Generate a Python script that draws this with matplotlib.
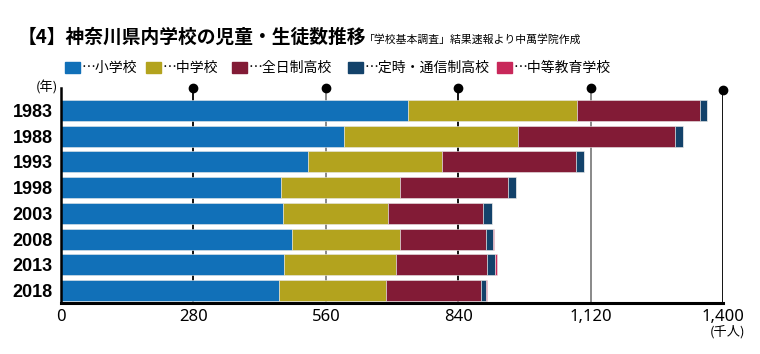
import matplotlib
matplotlib.use("Agg")
import matplotlib.pyplot as plt
import numpy as np

plt.rcParams['font.family'] = ['Noto Sans CJK JP', 'DejaVu Sans']

years = ["1983", "1988", "1993", "1998", "2003", "2008", "2013", "2018"]
elementary = [733, 599, 522, 465, 470, 488, 471, 461]
junior_high = [357, 366, 284, 252, 222, 229, 238, 226]
fulltime_high = [261, 332, 282, 227, 200, 181, 192, 200]
parttime_high = [14, 18, 17, 18, 19, 16, 17, 12]
secondary_ed = [0, 0, 0, 0, 1, 1.5, 3, 2]

series = [
    ("⋯小学校", elementary, "#1170b8"),
    ("⋯中学校", junior_high, "#b3a31e"),
    ("⋯全日制高校", fulltime_high, "#821b36"),
    ("⋯定時・通信制高校", parttime_high, "#13426a"),
    ("⋯中等教育学校", secondary_ed, "#c8285a"),
]
xticks = [0, 280, 560, 840, 1120, 1400]
xticklabels = ["0", "280", "560", "840", "1,120", "1,400"]

W, H = 760, 354
fig = plt.figure(figsize=(W / 100, H / 100), dpi=100)
ax = fig.add_axes([61 / W, 1 - 303 / H, (723.3 - 61) / W, (303 - 88) / H])

y = np.arange(len(years))
left = np.zeros(len(years))
for name, vals, col in series:
    v = np.array(vals, dtype=float)
    ax.barh(y, v, left=left, height=0.82, color=col, edgecolor="#e8e8e8",
            linewidth=0.4, zorder=3)
    left += v

ax.set_xlim(0, 1400)
ax.set_ylim(7 + 0.486, -0.875)

for xv in xticks[1:]:
    c = "black" if xv in (280, 840, 1400) else "#808080"
    ax.axvline(xv, color=c, lw=1.3, zorder=1)
    top = 1.0 if xv != 1400 else 0.99
    ax.plot([xv], [top], marker="o", ms=6, color="black", transform=ax.get_xaxis_transform(),
            clip_on=False, zorder=5)

ax.set_xticks(xticks)
ax.set_xticklabels(xticklabels, fontsize=12, family=['Noto Sans', 'DejaVu Sans'])
ax.set_yticks(y)
ax.set_yticklabels(years, fontsize=13, fontweight="bold", family=['Liberation Sans', 'DejaVu Sans'])
ax.tick_params(length=0, pad=6)
ax.tick_params(axis='x', pad=4)
for s in ["top", "right"]:
    ax.spines[s].set_visible(False)
ax.spines["left"].set_linewidth(1.8)
ax.spines["bottom"].set_linewidth(2.2)
ax.spines["left"].set_zorder(6)
ax.spines["bottom"].set_zorder(6)

# Title
fig.text(18 / W, 1 - 37 / H, "【4】神奈川県内学校の児童・生徒数推移", fontsize=13.5, fontweight="bold",
         va="center", ha="left")
fig.text(364 / W, 1 - 40 / H, "「学校基本調査」結果速報より中萬学院作成", fontsize=7.8,
         va="center", ha="left")

# Legend
leg_x = [65, 146, 232, 348, 497]
for (name, vals, col), lx in zip(series, leg_x):
    fig.patches.append(matplotlib.patches.Rectangle((lx / W, 1 - 73 / H), 15 / W, 11 / H,
                                                    transform=fig.transFigure, color=col))
    fig.text((lx + 17) / W, 1 - 67.5 / H, name, fontsize=10, va="center", ha="left")

fig.text(58 / W, 1 - 88 / H, "(年)", fontsize=9.5, va="center", ha="right")
fig.text(745 / W, 1 - 332 / H, "(千人)", fontsize=9.5, va="center", ha="right")

fig.savefig("out.png", dpi=100)
